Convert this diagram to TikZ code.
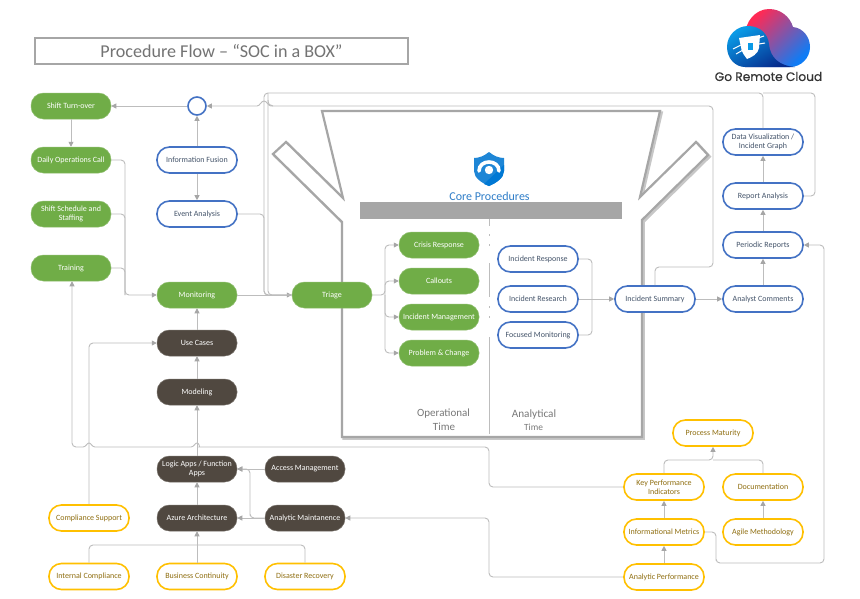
\documentclass[tikz,border=0pt]{standalone}
\usepackage{fontspec}
\setmainfont{Carlito}
\newfontfamily\logofont[FakeBold=0.5]{Poppins}
\usetikzlibrary{arrows.meta}
\definecolor{cline}{HTML}{BDBDBD}
\definecolor{ctip}{HTML}{A6A6A6}
\definecolor{cgreen}{HTML}{70AD47}
\definecolor{cbrown}{HTML}{504840}
\definecolor{cblue}{HTML}{4472C4}
\definecolor{cyellow}{HTML}{FFC000}
\definecolor{ctxtblue}{HTML}{44546A}
\definecolor{ctxtyellow}{HTML}{8F6E10}
\definecolor{cfunnel}{HTML}{A6A6A6}
\definecolor{cpink}{HTML}{FF2A55}
\definecolor{cpurple}{HTML}{B250BE}
\definecolor{cskyb}{HTML}{0F7CF5}
\definecolor{ccyan}{HTML}{0A9AE6}
\definecolor{cnavy}{HTML}{062A8C}
\definecolor{cshielda}{HTML}{1E86D6}
\definecolor{cshieldb}{HTML}{0078D4}
\definecolor{ccore}{HTML}{2E7DC8}
\tikzset{
  box/.style={rounded corners=12.5pt,minimum width=80pt,minimum height=26pt,align=center,inner sep=0pt,font=\fontsize{8}{9.4}\selectfont},
  greenbox/.style={box,fill=cgreen,draw=cgreen!80!white,line width=.5pt,text=white},
  brownbox/.style={box,fill=cbrown,draw=cbrown!80!white,line width=.5pt,text=white},
  bluebox/.style={box,fill=white,draw=cblue,line width=1.6pt,text=ctxtblue,minimum width=80pt},
  yellowbox/.style={box,fill=white,draw=cyellow,line width=1.6pt,text=ctxtyellow,minimum width=80pt},
  conn/.style={draw=cline,line width=.9pt,rounded corners=4pt},
  arr/.style={conn,-{Triangle[length=5pt,width=5pt,fill=ctip,color=ctip]}},
  labelgrey/.style={text=gray!95!black,inner sep=0pt},
}
\begin{document}
\begin{tikzpicture}[x=1pt,y=-1pt]
\useasboundingbox[fill=white] (0,0) rectangle (860,598);

% title
\node[draw=cfunnel,line width=1.6pt,minimum width=373pt,minimum height=26pt,inner sep=0pt,text=gray!90!black,font=\fontsize{18.1}{20}\selectfont] (title) at (221.5,51) {Procedure Flow – “SOC in a BOX”};

% logo
\shade[left color=cpink,middle color=cpurple,right color=cskyb,shading angle=45]
  (745,36) .. controls (745,21) and (756,9) .. (769,9) .. controls (781,9) and (790,17) .. (793,27) .. controls (803,28) and (810,37) .. (810,47) .. controls (810,58) and (801,67) .. (790,67) -- (745,67) -- cycle;
\shade[left color=ccyan,right color=cnavy,shading angle=30]
  (727,47) .. controls (727,35) and (737,26) .. (748,26) .. controls (760,26) and (768,34) .. (769,44) .. controls (770,58) and (780,66) .. (795,67) -- (745,67) .. controls (735,67) and (727,58) .. (727,47) -- cycle;
\fill[white] (739,38) -- (760,35) -- (759,48) .. controls (758,54) and (752,57) .. (747,59) .. controls (745,56) and (741,52) .. (741,47) -- cycle;
\fill[ccyan] (748,43) rectangle (753,50);
\draw[white,line width=1pt] (733,49) -- (741,45) (736,54) -- (743,50) (758,38) -- (764,36) (759,44) -- (765,43);
\node[font=\logofont\fontsize{12.2}{13}\selectfont,text=black!80,inner sep=0pt] (logotext) at (768.5,76.5) {Go Remote Cloud};

% funnel
\def\funnelpath{(322,111) -- (343,198) -- (286,142) -- (273,154) -- (342,222) -- (342,437) -- (642,437) -- (642,220) -- (708,155) -- (696,142) -- (640,197) -- (660,111) -- cycle}
\begin{scope}[shift={(1.6,1.6)}]
  \draw[draw=black!22,line width=2.6pt,line join=miter] \funnelpath;
\end{scope}
\draw[draw=cfunnel,line width=2.2pt,fill=white,line join=miter] \funnelpath;
\fill[cfunnel] (360,202) rectangle (622,219);

% divider
\draw[cline,line width=.9pt] (489,219) -- (489,226) (489,234) -- (489,236) (489,244) -- (489,246) (489,263) -- (489,297) (489,306) -- (489,308) (489,316) -- (489,318) (489,337) -- (489,434);

% core shield
\fill[cshielda] (489,152) .. controls (484,156) and (479,158) .. (474,158) -- (474,171) .. controls (474,178) and (482,183) .. (489,186) .. controls (496,183) and (504,178) .. (504,171) -- (504,158) .. controls (499,158) and (494,156) .. (489,152) -- cycle;
\fill[cshieldb] (489,186) .. controls (496,183) and (504,178) .. (504,171) -- (504,165) -- (484,184) -- cycle;
\draw[white,line width=3.6pt,line cap=round] (479,171) .. controls (479,159) and (499,159) .. (499,171);
\fill[white] (489,170) circle (4.2);
\node[text=ccore,font=\fontsize{12}{14}\selectfont,inner sep=0pt] (core) at (489.5,196) {Core Procedures};

% time labels
\node[labelgrey,font=\fontsize{11}{12}\selectfont] (op) at (443.5,413.5) {Operational};
\node[labelgrey,font=\fontsize{11}{12}\selectfont] (optime) at (444,427) {Time};
\node[labelgrey,font=\fontsize{11.2}{12}\selectfont] (an) at (534,414.5) {Analytical};
\node[labelgrey,font=\fontsize{9.4}{11}\selectfont] (antime) at (533.5,427) {Time};

% nodes
\node[greenbox] (turn) at (71,106) {Shift Turn-over};
\node[greenbox] (daily) at (71,160) {Daily Operations Call};
\node[greenbox] (sched) at (71,214) {Shift Schedule and\\Staffing};
\node[greenbox] (train) at (71,268) {Training};
\node[circle,draw=cblue,line width=1.6pt,fill=white,minimum size=18pt,inner sep=0pt] (fus) at (197,106) {};
\node[bluebox] (info) at (197,160) {Information Fusion};
\node[bluebox] (event) at (197,214) {Event Analysis};
\node[greenbox] (mon) at (197,295) {Monitoring};
\node[brownbox] (use) at (197,343) {Use Cases};
\node[brownbox] (model) at (197,392) {Modeling};
\node[brownbox] (logic) at (197,469) {Logic Apps / Function\\Apps};
\node[brownbox] (azure) at (197,518) {Azure Architecture};
\node[brownbox] (access) at (305,469) {Access Management};
\node[brownbox] (maint) at (305,518) {Analytic Maintanence};
\node[yellowbox] (comp) at (89,518) {Compliance Support};
\node[yellowbox] (intc) at (89,576.5) {Internal Compliance};
\node[yellowbox] (bus) at (197,576.5) {Business Continuity};
\node[yellowbox] (dis) at (305,576.5) {Disaster Recovery};
\node[greenbox] (tri) at (332,295) {Triage};
\node[greenbox] (cri) at (439,245) {Crisis Response};
\node[greenbox] (cal) at (439,281) {Callouts};
\node[greenbox] (inm) at (439,317) {Incident Management};
\node[greenbox] (pro) at (439,353) {Problem \& Change};
\node[bluebox] (ire) at (538,259) {Incident Response};
\node[bluebox] (irs) at (538,299) {Incident Research};
\node[bluebox] (foc) at (538,335) {Focused Monitoring};
\node[bluebox] (sum) at (655,299) {Incident Summary};
\node[bluebox] (ana) at (763,299) {Analyst Comments};
\node[bluebox] (per) at (763,245) {Periodic Reports};
\node[bluebox] (rep) at (763,196) {Report Analysis};
\node[bluebox] (viz) at (763,142) {Data Visualization /\\Incident Graph};
\node[yellowbox] (mat) at (713,433) {Process Maturity};
\node[yellowbox] (kpi) at (664,487) {Key Performance\\Indicators};
\node[yellowbox] (doc) at (763,487) {Documentation};
\node[yellowbox] (met) at (664,532) {Informational Metrics};
\node[yellowbox] (agi) at (763,532) {Agile Methodology};
\node[yellowbox] (perf) at (664,577) {Analytic Performance};

% waypoints
\coordinate (busA) at (125,295);
\coordinate (busB) at (264,295);
\coordinate (busC) at (268,295);
\coordinate (topL) at (264,93);
\coordinate (topM) at (268,93);
\coordinate (topR) at (815,93);
\coordinate (loopA) at (713,267);
\coordinate (loopB) at (713,106);
\coordinate (busT) at (385,295);
\coordinate (busI) at (592,299);
\coordinate (retA) at (824,563);
\coordinate (retB) at (716,563);
\coordinate (kpiA) at (489,447);
\coordinate (kpiB) at (72,447);
\coordinate (perfA) at (489,518);
\coordinate (busM) at (250,518);
\coordinate (busL) at (197,545);
\coordinate (busK) at (713,460);

% connectors
\draw[arr] (fus) -- (turn);
\draw[arr] (turn) -- (daily);
\draw[arr] (info) -- (fus);
\draw[arr] (info) -- (event);
\draw[arr] (daily.east) -| (busA) -- (mon.west);
\draw[conn] (sched.east) -| (busA);
\draw[conn] (train.east) -| (busA);
\draw[arr] (mon) -- (tri);
\draw[conn] (event.east) -| (busB) -- (tri.west);
\draw[conn] (viz.north) |- (topL) |- (tri.west);
\draw[conn] (topM) -- (busC) -- (tri.west);
\draw[conn] (rep.east) -| (topR) -- (viz.north |- topR);
\draw[arr] (sum.north) |- (loopA) -- (loopB) [sharp corners] -- (271,106) .. controls (268,106) and (267,101) .. (264,101) .. controls (261,101) and (260,106) .. (257,106) -- (fus.east);
\draw[conn,rounded corners=0pt] (273,106) .. controls (270,106) and (268,104) .. (268,100);
\draw[arr] (tri.east) -- (busT) |- (cri.west);
\draw[arr] (busT) |- (cal.west);
\draw[arr] (busT) |- (inm.west);
\draw[arr] (busT) |- (pro.west);
\draw[conn] (ire.east) -| (busI);
\draw[conn] (foc.east) -| (busI);
\draw[arr] (irs) -- (sum);
\draw[arr] (sum) -- (ana);
\draw[arr] (ana) -- (per);
\draw[arr] (per) -- (rep);
\draw[arr] (rep) -- (viz);
\draw[arr] (met.east) -| (retB) |- (retA) |- (per.east);
\draw[arr] (kpi.west) -| (kpiA) -- (203,447) [sharp corners] .. controls (200,447) and (199,443) .. (197,443) .. controls (195,443) and (194,447) .. (191,447) -- (95,447) .. controls (92,447) and (91,443) .. (89,443) .. controls (87,443) and (86,447) .. (83,447) [rounded corners=4pt] -- (kpiB) -- (train.south -| kpiB);
\draw[arr] (perf.west) -| (perfA) -- (maint.east);
\draw[arr] (maint) -- (azure);
\draw[arr] (maint.west) -| (busM) |- (logic.east);
\draw[arr] (access) -- (logic);
\draw[arr] (azure) -- (logic);
\draw[arr] (logic) -- (model);
\draw[arr] (model) -- (use);
\draw[arr] (use) -- (mon);
\draw[arr] (comp.north) |- (use.west);
\draw[arr] (bus) -- (azure);
\draw[conn] (intc.north) |- (busL);
\draw[conn] (dis.north) |- (busL);
\draw[arr] (kpi.north) |- (busK) -- (mat.south);
\draw[conn] (doc.north) |- (busK);
\draw[arr] (agi) -- (doc);
\draw[arr] (met) -- (kpi);
\draw[arr] (perf) -- (met);
\end{tikzpicture}
\end{document}
